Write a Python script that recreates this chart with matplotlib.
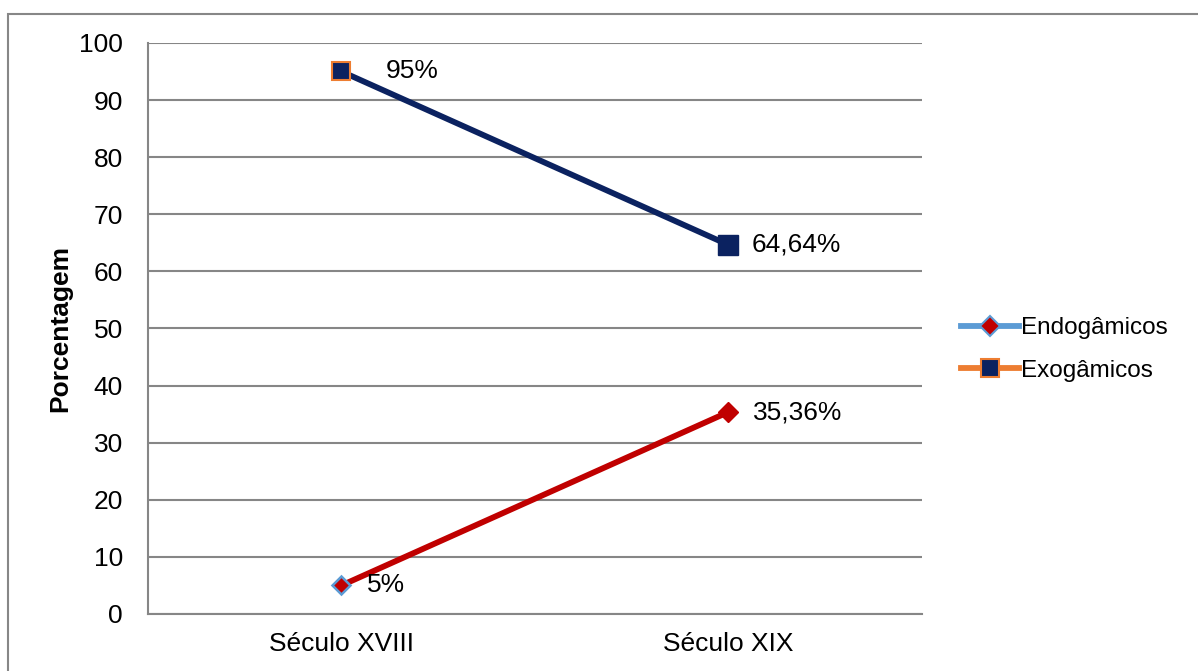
import matplotlib.pyplot as plt
from matplotlib.lines import Line2D
from matplotlib.patches import Rectangle

plt.rcParams['font.family'] = ['Liberation Sans', 'DejaVu Sans']

categories = ['Século XVIII', 'Século XIX']
endogamicos = [5, 35.36]
exogamicos = [95, 64.64]
endo_labels = ['5%', '35,36%']
exo_labels = ['95%', '64,64%']

GRID = '#868686'
RED = '#C00000'
NAVY = '#0B2260'
BLUE = '#5B9BD5'
ORANGE = '#ED7D31'
FS = 19

fig = plt.figure(figsize=(11.98, 6.71), dpi=100)
ax = fig.add_axes([0.1235, 0.085, 0.646, 0.851])

x = list(range(len(categories)))

# series lines
ax.plot(x, exogamicos, color=NAVY, lw=4.2, zorder=3, solid_capstyle='butt')
ax.plot(x, endogamicos, color=RED, lw=4.2, zorder=3, solid_capstyle='butt')

# markers: first point keeps the default series edge colour
ax.plot(x[0], exogamicos[0], marker='s', ms=13, mfc=NAVY, mec=ORANGE, mew=1.5, zorder=4)
ax.plot(x[1], exogamicos[1], marker='s', ms=14, mfc=NAVY, mec=NAVY, mew=1, zorder=4)
ax.plot(x[0], endogamicos[0], marker='D', ms=9.5, mfc=RED, mec=BLUE, mew=1.8, zorder=4)
ax.plot(x[1], endogamicos[1], marker='D', ms=10.5, mfc=RED, mec=RED, mew=1, zorder=4)

# data labels
exo_off = [(44, 0), (23, 0)]
endo_off = [(26, 0), (25, 0)]
for i in x:
    ax.annotate(exo_labels[i], (x[i], exogamicos[i]), xytext=exo_off[i],
                textcoords='offset pixels', ha='left', va='center', fontsize=FS, zorder=5)
    ax.annotate(endo_labels[i], (x[i], endogamicos[i]), xytext=endo_off[i],
                textcoords='offset pixels', ha='left', va='center', fontsize=FS, zorder=5)

ax.set_xlim(-0.5, 1.5)
ax.set_ylim(0, 100)
ax.set_yticks(range(0, 101, 10))
ax.set_xticks(x)
ax.set_xticklabels(categories)
ax.tick_params(axis='both', length=0, labelsize=FS)
ax.tick_params(axis='y', pad=18)
ax.tick_params(axis='x', pad=13)
ax.yaxis.grid(True, color=GRID, lw=1.5)
ax.set_axisbelow(True)
for side in ['top', 'right']:
    ax.spines[side].set_visible(False)
ax.spines['left'].set_color(GRID)
ax.spines['bottom'].set_color(GRID)
ax.spines['left'].set_linewidth(1.5)
ax.spines['bottom'].set_linewidth(1.5)

ax.set_ylabel('Porcentagem', fontsize=FS, fontweight='bold', labelpad=5)

handles = [
    Line2D([], [], color=BLUE, lw=4.2, marker='D', ms=10, mfc=RED, mec=BLUE, mew=1.5),
    Line2D([], [], color=ORANGE, lw=4.2, marker='s', ms=12.5, mfc=NAVY, mec=ORANGE, mew=1.5),
]
fig.legend(handles, ['Endogâmicos', 'Exogâmicos'], loc='center left',
           bbox_to_anchor=(0.7835, 0.479), frameon=False, fontsize=17.5,
           handlelength=2.4, handletextpad=0.1, labelspacing=0.85)

# outer chart frame
fig.add_artist(Rectangle((8 / 1198, -0.05), 1.2, (671 - 13.5) / 671 + 0.05,
                         transform=fig.transFigure, fill=False, ec='#878787', lw=1.5))

fig.savefig('out.png', dpi=100)
